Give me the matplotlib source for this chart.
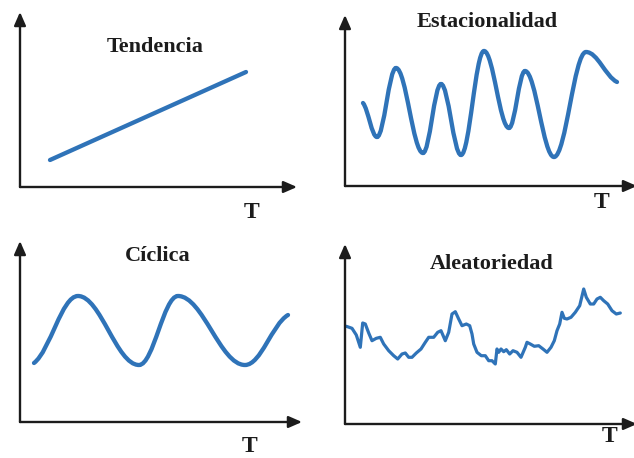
import matplotlib
matplotlib.use("Agg")
import matplotlib.pyplot as plt
from matplotlib.path import Path
from matplotlib.patches import PathPatch

# values measured from each panel's corner (pixel units of the original picture)
trend_t = [30, 226]
trend_v = [27, 115]

season_t = [18, 32, 51, 78, 96, 116, 139, 164, 180, 209, 241, 272]
season_v = [83, 49, 118, 33, 102, 31, 135, 58, 115, 29, 134, 104]

cyclic_t = [14, 58, 119, 158, 225, 268]
cyclic_v = [59, 126, 57, 126, 57, 107]

random_t = [1.3, 7.0, 11.3, 15.3, 17.7, 20.3, 23.7, 27.0, 31.3, 35.3, 38.7, 43.7,
            48.7, 52.7, 57.0, 60.3, 63.7, 67.0, 71.3, 76.0, 80.3, 83.7, 88.7, 92.7,
            96.0, 100.3, 103.7, 107.0, 110.3, 113.7, 117.0, 121.3, 124.7, 127.0,
            128.7, 132.0, 136.3, 140.3, 143.7, 147.0, 150.3, 152.0, 153.7, 156.0,
            158.7, 161.3, 164.7, 168.0, 172.0, 176.0, 180.3, 182.0, 185.3, 189.3,
            193.7, 198.0, 202.0, 206.0, 209.3, 212.0, 214.7, 217.0, 219.3, 222.0,
            226.0, 230.3, 234.7, 238.7, 241.3, 245.3, 248.7, 252.0, 255.3, 258.7,
            262.7, 267.0, 271.3, 275.3]
random_v = [97.7, 95.7, 89.0, 76.7, 101.0, 100.0, 91.0, 83.3, 85.7, 86.7, 80.0, 73.3,
            68.3, 65.0, 70.0, 71.0, 66.7, 66.7, 71.0, 75.0, 81.7, 86.7, 86.7, 91.7,
            93.3, 83.3, 91.7, 110.0, 112.3, 105.0, 98.3, 100.0, 98.3, 90.0,
            80.0, 71.7, 68.3, 68.3, 63.3, 63.3, 60.0, 75.0, 71.7, 75.0,
            72.3, 74.3, 70.0, 73.3, 71.7, 66.7, 76.7, 81.7, 80.0, 77.7,
            78.3, 75.0, 71.7, 76.7, 83.3, 93.3, 100.0, 111.7, 105.7, 105.0,
            106.7, 111.7, 118.3, 135.0, 126.7, 120.0, 120.0, 125.0, 126.7, 123.3,
            120.0, 113.3, 110.0, 111.0]

titles = ["Tendencia", "Estacionalidad", "Cíclica", "Aleatoriedad"]

W, H = 634, 458
BLUE = "#2F73B8"
INK = "#1c1c1c"
FONT = "Liberation Serif"

fig = plt.figure(figsize=(W / 100, H / 100), dpi=100)


def panel(ox, oy, w, h):
    ax = fig.add_axes([ox / W, (H - oy) / H, w / W, h / H])
    ax.set_xlim(0, w)
    ax.set_ylim(0, h)
    ax.axis("off")
    arrow = dict(arrowstyle="-|>,head_length=0.8,head_width=0.35", color=INK,
                 lw=1.7, shrinkA=0, shrinkB=0)
    ax.annotate("", xy=(w, 0), xytext=(0, 0), arrowprops=arrow, annotation_clip=False)
    ax.annotate("", xy=(0, h), xytext=(0, 0), arrowprops=arrow, annotation_clip=False)
    return ax


def smooth(ax, t, v, lw):
    # cubic bezier through the turning points, flat at each peak / trough
    verts = [(t[0], v[0])]
    codes = [Path.MOVETO]
    n = len(t)
    for i in range(n - 1):
        dx = t[i + 1] - t[i]
        dy = v[i + 1] - v[i]
        k = 0.37
        c1 = (t[i] + k * dx, v[i] + (k * dy * 0.5 if i == 0 else 0))
        c2 = (t[i + 1] - k * dx, v[i + 1] - (k * dy * 0.5 if i == n - 2 else 0))
        verts += [c1, c2, (t[i + 1], v[i + 1])]
        codes += [Path.CURVE4] * 3
    ax.add_patch(PathPatch(Path(verts, codes), fc="none", ec=BLUE, lw=lw,
                           capstyle="round", clip_on=False))


def labels(ax, title, tpos, lpos):
    ax.text(*tpos, title, ha="center", va="center", fontsize=16, fontweight="bold",
            family=FONT, color=INK)
    ax.text(*lpos, "T", ha="center", va="center", fontsize=17, fontweight="bold",
            family=FONT, color=INK)


ax1 = panel(20, 187, 277, 175)
ax1.plot(trend_t, trend_v, color=BLUE, lw=3.1, solid_capstyle="round")
labels(ax1, titles[0], (135, 140), (232, -26))

ax2 = panel(345, 186, 292, 171)
smooth(ax2, season_t, season_v, 3.1)
labels(ax2, titles[1], (142, 164), (257, -17))

ax3 = panel(20, 422, 282, 181)
smooth(ax3, cyclic_t, cyclic_v, 3.1)
labels(ax3, titles[2], (138, 166), (230, -24))

ax4 = panel(345, 424, 292, 180)
ax4.plot(random_t, random_v, color=BLUE, lw=2.3, solid_joinstyle="round",
         solid_capstyle="round")
labels(ax4, titles[3], (147, 160), (265, -12))

fig.savefig("out.png", dpi=100, facecolor="white")
